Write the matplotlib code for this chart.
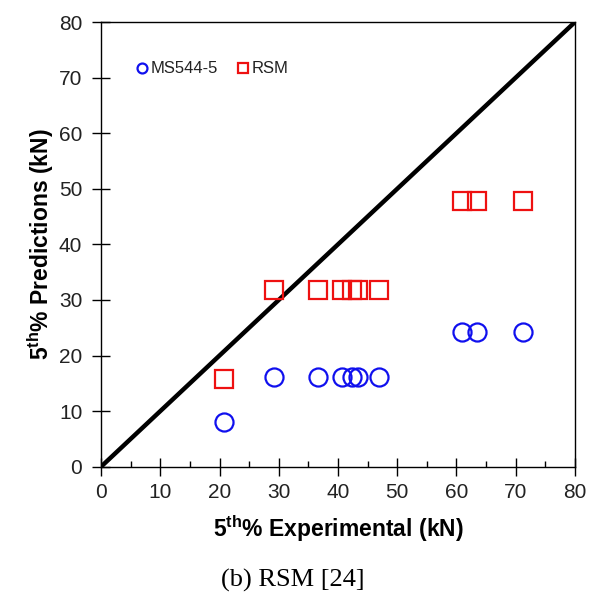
import matplotlib
matplotlib.use("Agg")
import matplotlib.pyplot as plt
from matplotlib.ticker import MultipleLocator

plt.rcParams['font.family'] = ['Liberation Sans', 'DejaVu Sans']
plt.rcParams['mathtext.fontset'] = 'custom'
plt.rcParams['mathtext.rm'] = 'Liberation Sans'
plt.rcParams['mathtext.bf'] = 'Liberation Sans:bold'

# experimental 5th percentile values (kN)
experimental = [20.8, 29.2, 36.7, 40.7, 42.3, 43.4, 46.9, 60.9, 63.5, 71.2]
# predictions (kN)
ms544_pred = [8.0, 16.2, 16.2, 16.2, 16.2, 16.2, 16.2, 24.3, 24.3, 24.3]
rsm_pred = [15.8, 31.8, 31.8, 31.8, 31.8, 31.8, 31.8, 47.8, 47.8, 47.8]
line_xy = [0, 80]

fig = plt.figure(figsize=(5.89, 5.95), dpi=100)
ax = fig.add_axes([0.1715, 0.2156, 0.8047, 0.7474])

ax.plot(line_xy, line_xy, color='black', linewidth=3.2, zorder=2)
ax.plot(experimental, ms544_pred, linestyle='none', marker='o', markersize=13,
        markerfacecolor='none', markeredgecolor='#1010ee', markeredgewidth=1.6,
        label='MS544-5', zorder=3)
ax.plot(experimental, rsm_pred, linestyle='none', marker='s', markersize=13,
        markerfacecolor='none', markeredgecolor='#ee1111', markeredgewidth=1.6,
        label='RSM', zorder=3)

ax.set_xlim(0, 80)
ax.set_ylim(0, 80)
ax.xaxis.set_major_locator(MultipleLocator(10))
ax.xaxis.set_minor_locator(MultipleLocator(5))
ax.yaxis.set_major_locator(MultipleLocator(10))
ax.tick_params(which='major', direction='inout', length=13, width=1,
               labelsize=15, labelcolor='#222222')
ax.tick_params(axis='x', which='major', pad=5)
ax.tick_params(axis='y', which='major', pad=7)
ax.tick_params(axis='x', which='minor', direction='in', length=4, width=1)
for s in ax.spines.values():
    s.set_linewidth(1)

ax.set_xlabel(r'5$^{\mathbf{th}}$% Experimental (kN)', fontsize=16.5,
              fontweight='bold', labelpad=8)
ax.set_ylabel(r'5$^{\mathbf{th}}$% Predictions (kN)', fontsize=16.5,
              fontweight='bold', labelpad=2)

ax.legend(loc='upper left', bbox_to_anchor=(0.045, 0.945), ncol=2, frameon=False,
          markerscale=0.55, handlelength=0.6, handletextpad=0.2,
          columnspacing=1.2, fontsize=12, labelcolor='#222222')

fig.text(0.497, 0.005, '(b) RSM [24]', fontsize=19, family='Liberation Serif',
         ha='center', va='bottom')

fig.savefig('out.png', dpi=100)
